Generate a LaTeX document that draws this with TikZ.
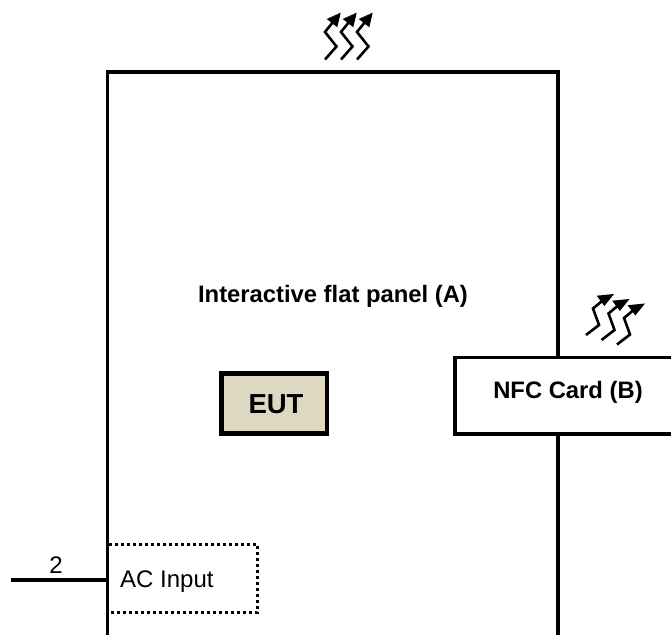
\documentclass[tikz,border=0pt]{standalone}
\usepackage{fontspec}
\setmainfont{Liberation Sans}
\definecolor{eutfill}{HTML}{DDD8C2}
\tikzset{
  heavy/.style={line width=3.6pt,black},
  boxshape/.style={draw=black,inner sep=0pt,outer sep=0pt,anchor=north west},
  heatbody/.style={line width=2.6pt,line join=miter},
  heathead/.style={fill=black},
  title/.style={font=\fontsize{23.8}{26}\selectfont\bfseries,inner sep=0pt},
  bigtitle/.style={font=\fontsize{27.5}{29}\selectfont\bfseries,inner sep=0pt},
  plain/.style={font=\fontsize{24}{26}\selectfont,inner sep=0pt}
}
\begin{document}
\begin{tikzpicture}[x=1pt,y=-1pt]
\useasboundingbox (0,0) rectangle (671,635);
% panel outline
\coordinate (pbl) at (107.5,635);
\coordinate (ptl) at (107.5,72);
\coordinate (ptr) at (558,72);
\coordinate (pbr) at (558,635);
\draw[heavy,line join=miter] (pbl) -- (ptl) -- (ptr) -- (pbr);
% boxes
\clip (0,0) rectangle (671,635);
\node[boxshape,line width=3.8pt,fill=white,minimum width=225pt,minimum height=76.2pt] (nfc) at (454.7,357.5) {};
\node[title] (nfclabel) at (568,392) {NFC Card (B)};
\node[boxshape,line width=4.3pt,fill=eutfill,minimum width=105.5pt,minimum height=60pt] (eut) at (221.5,373.6) {};
\node[bigtitle] at (276,404) {EUT};
\node[title] (panel) at (333,296.5) {Interactive flat panel (A)};
% AC input
\draw[line width=3.6pt,dash pattern=on 3.4pt off 2.6pt,line cap=butt] (109,544.5) -- (257.5,544.5) -- (257.5,612.5) -- (109,612.5);
\node[plain,anchor=west] (ac) at (120,582) {AC Input};
\coordinate (cablestart) at (11,580);
\coordinate (cableend) at (107,580);
\draw[heavy] (cablestart) -- (cableend);
\node[plain] (cablelabel) at (56,565) {2};
% heat arrows, top
\foreach \d in {0,16,32}{
  \draw[heatbody] (325+\d,59.5) -- (336.5+\d,46.5) -- (325+\d,32) -- (333+\d,22);
  \fill[heathead] (340.7+\d,12.7) -- (326.7+\d,19) -- (337.3+\d,27.3) -- cycle;
}
% heat arrows, right
\foreach \dx/\dy in {0/0,15.5/5,31/9.5}{
  \draw[heatbody] (586+\dx,335+\dy) -- (599+\dx,325+\dy) -- (593+\dx,308.5+\dy) -- (602+\dx,301+\dy);
  \fill[heathead] (614+\dx,294+\dy) -- (596.7+\dx,295.7+\dy) -- (604.3+\dx,306+\dy) -- cycle;
}
\end{tikzpicture}
\end{document}
